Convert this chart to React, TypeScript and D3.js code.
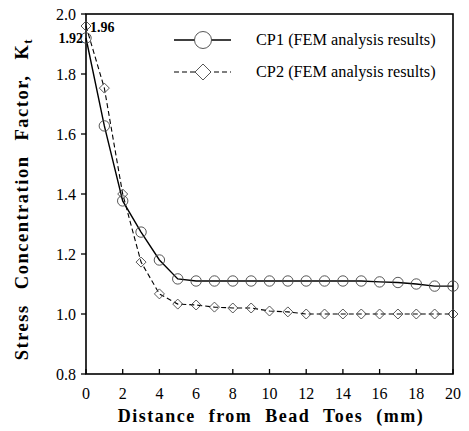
import React from "react";
import * as d3 from "d3";

const distance = [0,1,2,3,4,5,6,7,8,9,10,11,12,13,14,15,16,17,18,19,20];
const cp1 = [1.92,1.627,1.377,1.273,1.18,1.117,1.11,1.11,1.11,1.11,1.11,1.11,1.11,1.11,1.11,1.11,1.107,1.105,1.1,1.093,1.093];
const cp2 = [1.96,1.753,1.40,1.173,1.067,1.033,1.03,1.023,1.02,1.02,1.01,1.007,1.0,1.0,1.0,1.0,1.0,1.0,1.0,1.0,1.0];
const xTicks = [0,2,4,6,8,10,12,14,16,18,20];
const yTicks = [0.8,1.0,1.2,1.4,1.6,1.8,2.0];
const seriesNames = ["CP1 (FEM analysis results)", "CP2 (FEM analysis results)"];

const W = 469, H = 431;
const L = 86, R = 453, T = 14, B = 374;
const font = "'Liberation Serif', 'Times New Roman', serif";

export default function App() {
  const x = d3.scaleLinear().domain([0, 20]).range([L, R]);
  const y = d3.scaleLinear().domain([0.8, 2.0]).range([B, T]);
  const line = d3.line<number>().x((_, i) => x(distance[i])).y(d => y(d));
  const diamond = (cx: number, cy: number, r: number) =>
    `M${cx},${cy - r}L${cx + r},${cy}L${cx},${cy + r}L${cx - r},${cy}Z`;

  return (
    <svg width={W} height={H} style={{ position: "absolute", left: 0, top: 0, background: "#fff" }}>
      <rect x={0} y={0} width={W} height={H} fill="#fff" />
      {/* frame */}
      <rect x={L} y={T} width={R - L} height={B - T} fill="none" stroke="#000" strokeWidth={1.6} />
      {/* y ticks */}
      {yTicks.map(t => (
        <g key={"y" + t}>
          <line x1={L - 5} x2={L} y1={y(t)} y2={y(t)} stroke="#000" strokeWidth={1.3} />
          <text x={L - 10} y={y(t)} dy="0.35em" textAnchor="end" fontFamily={font} fontSize={16} fill="#000">
            {t.toFixed(1)}
          </text>
        </g>
      ))}
      {/* x ticks */}
      {xTicks.map(t => (
        <g key={"x" + t}>
          <line x1={x(t)} x2={x(t)} y1={B} y2={B - 5} stroke="#000" strokeWidth={1.3} />
          <text x={x(t)} y={B + 25} textAnchor="middle" fontFamily={font} fontSize={16} fill="#000">
            {t}
          </text>
        </g>
      ))}
      {/* CP2 dashed */}
      <path d={line(cp2) || ""} fill="none" stroke="#000" strokeWidth={1.1} strokeDasharray="5,3" />
      {cp2.map((v, i) => (
        <path key={"d" + i} d={diamond(x(distance[i]), y(v), 5)} fill="none" stroke="#444" strokeWidth={0.9} />
      ))}
      {/* CP1 solid */}
      <path d={line(cp1) || ""} fill="none" stroke="#000" strokeWidth={1.4} />
      {cp1.map((v, i) => (
        <circle key={"c" + i} cx={x(distance[i])} cy={y(v)} r={5.2} fill="none" stroke="#444" strokeWidth={0.9} />
      ))}
      {/* annotations */}
      <text x={L - 3} y={y(cp1[0])} dy="0.35em" textAnchor="end" fontFamily={font} fontSize={14} fontWeight="bold" fill="#000">
        {cp1[0].toFixed(2)}
      </text>
      <text x={L + 4} y={y(cp2[0]) + 1} dy="0.35em" textAnchor="start" fontFamily={font} fontSize={14} fontWeight="bold" fill="#000">
        {cp2[0].toFixed(2)}
      </text>
      {/* legend */}
      <line x1={174} x2={231} y1={40} y2={40} stroke="#000" strokeWidth={1.4} />
      <circle cx={203} cy={40} r={8.5} fill="#fff" stroke="#444" strokeWidth={0.9} />
      <line x1={174} x2={231} y1={72} y2={72} stroke="#000" strokeWidth={1.1} strokeDasharray="5,3" />
      <path d={diamond(203, 72, 8)} fill="#fff" stroke="#444" strokeWidth={0.9} />
      <text x={256} y={45} fontFamily={font} fontSize={16.3} fill="#000">{seriesNames[0]}</text>
      <text x={256} y={77} fontFamily={font} fontSize={16.3} fill="#000">{seriesNames[1]}</text>
      {/* axis titles */}
      <text x={271} y={422} textAnchor="middle" fontFamily={font} fontSize={18} fontWeight="bold" letterSpacing={1.5} wordSpacing={7} fill="#000">
        Distance from Bead Toes (mm)
      </text>
      <text transform={`translate(28,199) rotate(-90)`} textAnchor="middle" fontFamily={font} fontSize={18.5} fontWeight="bold" letterSpacing={1.5} wordSpacing={9} fill="#000">
        Stress Concentration Factor, K<tspan fontSize={13} dy={4}>t</tspan>
      </text>
    </svg>
  );
}
